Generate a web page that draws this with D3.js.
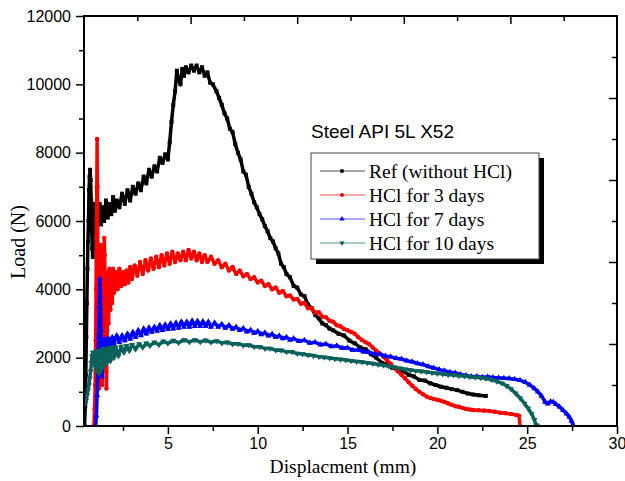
<!DOCTYPE html>
<html>
<head>
<meta charset="utf-8">
<script src="https://cdn.jsdelivr.net/npm/d3@7"></script>
<style>
  body { margin: 0; background: #fff; }
  svg { display: block; }
  .tick text { font-family: "Liberation Sans", Arial, sans-serif; font-size: 16px; fill: #000; }
  .tick line { stroke: #000; stroke-width: 1.5; }
</style>
</head>
<body>
<svg id="chart" width="625" height="481"></svg>
<script>
// ---- data (displacement mm, load N) ----
var seriesNames = ["Ref (without HCl)", "HCl for 3 days", "HCl for 7 days", "HCl for 10 days"];

var refData = [[0.36,0],[0.40,600],[0.43,1500],[0.46,2600],[0.49,3600],[0.52,4600],[0.55,5400],[0.58,6000],[0.61,6900],[0.64,7300],[0.67,7500],[0.70,7200],[0.73,6600],[0.76,5700],[0.79,5200],[0.82,4950],[0.86,5300],[0.90,6000],[0.95,6500],[1.0,6200],[1.05,5700],[1.12,6100],[1.2,6500],[1.28,5900],[1.36,6400],[1.45,6000],[1.55,6600],[1.65,6100],[1.75,6500],[1.85,6200],[1.95,6700],[2.05,6300],[2.15,6600],[2.3,6400],[2.45,6800],[2.6,6500],[2.75,6900],[2.9,6600],[3.05,7000],[3.2,6800],[3.35,7100],[3.5,6900],[3.65,7300],[3.8,7100],[3.95,7500],[4.1,7300],[4.25,7600],[4.4,7450],[4.55,7850],[4.7,7700],[4.85,7950],[5.0,7800],[5.1,8300],[5.2,8900],[5.3,9400],[5.4,9800],[5.5,10400],[5.6,10100],[5.7,10000],[5.8,10450],[5.9,10250],[6.0,10500],[6.15,10350],[6.3,10550],[6.45,10400],[6.6,10550],[6.75,10350],[6.9,10500],[7.05,10250],[7.2,10350],[7.35,10050],[7.5,10000],[7.7,9800],[7.85,9600],[8.0,9400],[8.15,9150],[8.3,9000],[8.45,8700],[8.6,8600],[8.75,8250],[8.9,8000],[9.05,7800],[9.2,7450],[9.35,7350],[9.5,7000],[9.65,6800],[9.8,6550],[9.95,6400],[10.1,6200],[10.25,6050],[10.4,5850],[10.55,5700],[10.7,5500],[10.85,5400],[11.0,5200],[11.15,5050],[11.3,4750],[11.45,4650],[11.6,4450],[11.8,4350],[12.0,4100],[12.2,4050],[12.4,3850],[12.6,3800],[12.8,3550],[13.0,3450],[13.2,3250],[13.4,3150],[13.6,3000],[13.8,2950],[14.0,2850],[14.2,2800],[14.5,2700],[14.8,2650],[15.1,2500],[15.4,2420],[15.7,2300],[16.0,2250],[16.3,2100],[16.6,2000],[16.9,1850],[17.2,1800],[17.5,1700],[17.8,1650],[18.1,1600],[18.4,1500],[18.7,1450],[19.0,1350],[19.3,1330],[19.6,1250],[19.9,1200],[20.2,1150],[20.5,1120],[20.8,1080],[21.1,1050],[21.4,1000],[21.7,950],[22.0,920],[22.3,900],[22.7,880]];

var hcl3Data = [[0.88,0],[0.92,500],[0.95,1200],[0.98,2500],[1.0,4000],[1.02,5500],[1.04,7000],[1.06,8400],[1.08,7000],[1.1,5200],[1.12,3600],[1.14,2200],[1.16,1100],[1.18,1900],[1.2,2600],[1.23,4500],[1.26,5300],[1.28,4600],[1.3,3300],[1.32,2400],[1.34,1200],[1.36,1700],[1.38,3100],[1.42,4800],[1.46,5500],[1.48,5000],[1.5,4200],[1.52,3300],[1.54,2500],[1.56,1600],[1.58,1100],[1.6,1900],[1.62,2800],[1.66,4500],[1.68,3900],[1.7,3000],[1.73,4200],[1.75,4600],[1.78,3700],[1.8,3400],[1.85,4300],[1.9,3600],[1.95,4600],[2.0,3900],[2.1,4500],[2.2,4000],[2.3,4600],[2.4,4100],[2.5,4500],[2.6,4150],[2.7,4550],[2.8,4200],[2.9,4650],[3.0,4300],[3.15,4700],[3.3,4400],[3.45,4800],[3.6,4450],[3.75,4850],[3.9,4550],[4.05,4900],[4.2,4600],[4.35,4950],[4.5,4650],[4.65,5000],[4.8,4700],[4.95,5050],[5.1,4750],[5.25,5100],[5.4,4800],[5.55,5050],[5.7,4850],[5.85,5100],[6.0,4850],[6.15,5150],[6.3,4900],[6.45,5100],[6.6,4850],[6.75,5050],[6.9,4800],[7.05,5000],[7.2,4800],[7.4,4950],[7.6,4750],[7.8,4850],[8.0,4650],[8.2,4750],[8.4,4550],[8.6,4650],[8.8,4450],[9.0,4550],[9.2,4380],[9.4,4450],[9.6,4300],[9.8,4350],[10.0,4200],[10.2,4250],[10.4,4100],[10.6,4150],[10.8,4000],[11.0,4050],[11.2,3900],[11.4,3950],[11.6,3800],[11.8,3820],[12.0,3700],[12.2,3720],[12.4,3580],[12.6,3600],[12.8,3450],[13.0,3450],[13.2,3320],[13.4,3330],[13.6,3200],[13.8,3180],[14.0,3080],[14.2,3050],[14.4,2950],[14.6,2920],[14.8,2840],[15.0,2800],[15.2,2750],[15.4,2700],[15.6,2600],[15.8,2520],[16.0,2450],[16.2,2400],[16.4,2300],[16.6,2200],[16.8,2120],[17.0,2030],[17.2,1920],[17.4,1820],[17.6,1700],[17.8,1600],[18.0,1500],[18.2,1400],[18.4,1280],[18.6,1180],[18.8,1080],[19.0,1000],[19.2,930],[19.4,860],[19.6,820],[19.8,790],[20.0,770],[20.2,740],[20.4,700],[20.6,660],[20.8,620],[21.0,580],[21.2,560],[21.4,530],[21.6,500],[21.8,480],[22.0,470],[22.3,460],[22.6,450],[22.9,440],[23.2,420],[23.5,390],[23.8,370],[24.1,350],[24.4,320],[24.55,300],[24.6,0]];

var hcl7Data = [[0.98,0],[1.02,300],[1.06,900],[1.1,1700],[1.14,2600],[1.18,3500],[1.21,4300],[1.24,3800],[1.27,2800],[1.3,1900],[1.33,1450],[1.36,1900],[1.4,2500],[1.45,2200],[1.5,2550],[1.6,2300],[1.7,2550],[1.8,2350],[1.9,2600],[2.0,2400],[2.15,2650],[2.3,2450],[2.45,2650],[2.6,2500],[2.75,2700],[2.9,2550],[3.05,2750],[3.2,2600],[3.35,2800],[3.5,2650],[3.65,2850],[3.8,2700],[3.95,2880],[4.1,2750],[4.25,2900],[4.4,2780],[4.55,2950],[4.7,2800],[4.85,2970],[5.0,2830],[5.15,3000],[5.3,2850],[5.45,3020],[5.6,2870],[5.75,3050],[5.9,2900],[6.05,3050],[6.2,2900],[6.35,3080],[6.5,2920],[6.65,3070],[6.8,2920],[6.95,3060],[7.1,2920],[7.25,3050],[7.4,2900],[7.6,3020],[7.8,2900],[8.0,2980],[8.2,2870],[8.4,2950],[8.6,2840],[8.8,2900],[9.0,2800],[9.2,2860],[9.4,2760],[9.6,2810],[9.8,2720],[10.0,2770],[10.2,2680],[10.4,2730],[10.6,2640],[10.8,2690],[11.0,2600],[11.2,2640],[11.4,2560],[11.6,2600],[11.8,2520],[12.0,2560],[12.3,2480],[12.6,2510],[12.9,2430],[13.2,2450],[13.5,2380],[13.8,2400],[14.1,2330],[14.4,2350],[14.7,2280],[15.0,2290],[15.3,2220],[15.6,2230],[15.9,2170],[16.2,2160],[16.5,2110],[16.8,2100],[17.1,2050],[17.4,2030],[17.7,1980],[18.0,1960],[18.3,1910],[18.6,1880],[18.9,1830],[19.2,1800],[19.5,1740],[19.8,1700],[20.1,1650],[20.4,1620],[20.7,1570],[21.0,1550],[21.3,1510],[21.6,1480],[21.9,1450],[22.2,1450],[22.5,1430],[22.8,1440],[23.1,1420],[23.4,1410],[23.7,1400],[24.0,1390],[24.3,1370],[24.6,1340],[24.9,1280],[25.15,1200],[25.4,1100],[25.6,1000],[25.8,880],[26.0,700],[26.15,650],[26.3,720],[26.45,700],[26.6,640],[26.8,560],[27.0,460],[27.2,360],[27.35,260],[27.47,150],[27.55,30],[27.6,0]];

var hcl10Data = [[0.4,650],[0.45,750],[0.5,900],[0.55,1050],[0.6,1200],[0.65,1400],[0.7,1600],[0.74,1850],[0.78,2050],[0.82,2150],[0.86,1900],[0.9,2150],[0.95,1750],[1.0,2180],[1.05,1600],[1.1,2200],[1.15,1550],[1.2,2200],[1.25,1600],[1.3,2220],[1.35,1700],[1.4,2250],[1.45,1750],[1.5,2250],[1.6,1850],[1.7,2280],[1.8,1900],[1.9,2300],[2.0,2000],[2.1,2300],[2.25,2050],[2.4,2330],[2.55,2150],[2.7,2350],[2.85,2200],[3.0,2380],[3.2,2250],[3.4,2400],[3.6,2300],[3.8,2420],[4.0,2350],[4.25,2450],[4.5,2380],[4.75,2480],[5.0,2420],[5.3,2500],[5.6,2440],[5.9,2520],[6.2,2460],[6.5,2520],[6.8,2460],[7.1,2510],[7.4,2450],[7.7,2490],[8.0,2430],[8.3,2450],[8.6,2400],[8.9,2410],[9.2,2360],[9.5,2370],[9.8,2320],[10.1,2320],[10.4,2270],[10.7,2270],[11.0,2220],[11.3,2220],[11.6,2170],[11.9,2170],[12.2,2120],[12.5,2110],[12.8,2080],[13.1,2060],[13.4,2030],[13.7,2010],[14.0,1990],[14.3,1970],[14.6,1950],[14.9,1930],[15.2,1910],[15.5,1890],[15.8,1870],[16.1,1850],[16.4,1830],[16.7,1800],[17.0,1780],[17.3,1750],[17.6,1720],[17.9,1690],[18.2,1660],[18.5,1640],[18.8,1620],[19.1,1600],[19.4,1580],[19.7,1560],[20.0,1540],[20.3,1520],[20.6,1500],[20.9,1490],[21.2,1470],[21.5,1460],[21.8,1440],[22.1,1430],[22.4,1410],[22.7,1390],[23.0,1360],[23.3,1310],[23.6,1250],[23.85,1180],[24.1,1080],[24.35,960],[24.6,820],[24.85,660],[25.05,520],[25.25,350],[25.4,180],[25.5,30],[25.55,0]];

var xMajorTicks = [5, 10, 15, 20, 25, 30];
var xMinorTicks = [2.5, 7.5, 12.5, 17.5, 22.5, 27.5];
var yMajorTicks = [0, 2000, 4000, 6000, 8000, 10000, 12000];
var yMinorTicks = [1000, 3000, 5000, 7000, 9000, 11000];

// styles
var colors = ["#000000", "#ff0000", "#0000ff", "#0b615b"];
var symbols = [d3.symbolSquare, d3.symbolCircle, d3.symbolTriangle, d3.symbolTriangle];

var allData = [refData, hcl3Data, hcl7Data, hcl10Data];

var svg = d3.select("#chart");

var plotLeft = 84, plotRight = 617, plotTop = 16, plotBottom = 426;

var xScale = d3.scaleLinear().domain([0.33, 30]).range([plotLeft, plotRight]);
var yScale = d3.scaleLinear().domain([0, 12000]).range([plotBottom, plotTop]);
// top / right mirror axes carry their own evenly spaced ticks
var topScale = d3.scaleLinear().domain([0, 10]).range([plotLeft, plotRight]);
var rightScale = d3.scaleLinear().domain([0, 10]).range([plotBottom, plotTop]);

//Curves
svg.append("clipPath").attr("id", "plotclip")
	.append("rect").attr("x", plotLeft).attr("y", plotTop - 2)
	.attr("width", plotRight - plotLeft).attr("height", plotBottom - plotTop + 2);

var line = d3.line()
	.x(function(d) { return xScale(d[0]); })
	.y(function(d) { return yScale(d[1]); });

var plot = svg.append("g").attr("clip-path", "url(#plotclip)");

allData.forEach(function(data, i) {
	plot.append("path")
		.datum(data)
		.attr("fill", "none")
		.attr("stroke", colors[i])
		.attr("stroke-width", 3.5)
		.attr("stroke-linejoin", "round")
		.attr("d", line);

	plot.selectAll(".pt" + i)
		.data(data)
		.enter().append("path")
		.attr("class", "pt" + i)
		.attr("fill", colors[i])
		.attr("d", d3.symbol().type(symbols[i]).size(16))
		.attr("transform", function(d) {
			return "translate(" + xScale(d[0]) + "," + yScale(d[1]) + ")" + (i === 3 ? " rotate(180)" : "");
		});
});

//Axes
var gx = svg.append("g").attr("transform", "translate(0," + plotBottom + ")");
gx.call(d3.axisBottom(xScale).tickValues(xMajorTicks).tickSize(8).tickPadding(4).tickFormat(d3.format("d")));
gx.append("g").call(d3.axisBottom(xScale).tickValues(xMinorTicks).tickSize(5).tickFormat(""));

var gy = svg.append("g").attr("transform", "translate(" + plotLeft + ",0)");
gy.call(d3.axisLeft(yScale).tickValues(yMajorTicks).tickSize(8).tickPadding(5).tickFormat(d3.format("d")));
gy.append("g").call(d3.axisLeft(yScale).tickValues(yMinorTicks).tickSize(5).tickFormat(""));

var gt = svg.append("g").attr("transform", "translate(0," + plotTop + ")");
gt.call(d3.axisBottom(topScale).tickValues([2, 4, 6, 8]).tickSize(8).tickFormat(""));
gt.append("g").call(d3.axisBottom(topScale).tickValues([1, 3, 5, 7, 9]).tickSize(5).tickFormat(""));

var gr = svg.append("g").attr("transform", "translate(" + plotRight + ",0)");
gr.call(d3.axisLeft(rightScale).tickValues([2, 4, 6, 8]).tickSize(8).tickFormat(""));
gr.append("g").call(d3.axisLeft(rightScale).tickValues([1, 3, 5, 7, 9]).tickSize(5).tickFormat(""));

svg.selectAll(".domain").remove();

svg.append("rect")
	.attr("x", plotLeft).attr("y", plotTop)
	.attr("width", plotRight - plotLeft).attr("height", plotBottom - plotTop)
	.attr("fill", "none").attr("stroke", "#000").attr("stroke-width", 2);

//Axis titles
svg.append("text")
	.attr("x", 343).attr("y", 473)
	.attr("text-anchor", "middle")
	.style("font-family", "'Liberation Serif', 'Times New Roman', serif")
	.style("font-size", "19.5px")
	.text("Displacment (mm)");

svg.append("text")
	.attr("transform", "translate(25,242) rotate(-90)")
	.attr("text-anchor", "middle")
	.style("font-family", "'Liberation Serif', 'Times New Roman', serif")
	.style("font-size", "20px")
	.text("Load (N)");

//Title and legend
svg.append("text")
	.attr("x", 311).attr("y", 138)
	.style("font-family", "'Liberation Sans', Arial, sans-serif")
	.style("font-size", "19px")
	.text("Steel API 5L X52");

var lg = svg.append("g");
lg.append("rect").attr("x", 316).attr("y", 158).attr("width", 228).attr("height", 106).attr("fill", "#000");
lg.append("rect").attr("x", 311).attr("y", 153).attr("width", 228).attr("height", 106)
	.attr("fill", "#fff").attr("stroke", "#444").attr("stroke-width", 1);

var rows = lg.selectAll(".row")
	.data(seriesNames)
	.enter().append("g")
	.attr("transform", function(d, i) { return "translate(0," + (171 + i * 24) + ")"; });

rows.append("line")
	.attr("x1", 320).attr("x2", 365)
	.attr("stroke", function(d, i) { return colors[i]; })
	.attr("stroke-opacity", 0.7)
	.attr("stroke-width", 1);

rows.append("path")
	.attr("fill", function(d, i) { return colors[i]; })
	.attr("d", function(d, i) { return d3.symbol().type(symbols[i]).size(12)(); })
	.attr("transform", function(d, i) { return "translate(342,0)" + (i === 3 ? " rotate(180)" : ""); });

rows.append("text")
	.attr("x", 369).attr("y", 6.5)
	.style("font-family", "'Liberation Serif', 'Times New Roman', serif")
	.style("font-size", "19.5px")
	.text(function(d) { return d; });
</script>
</body>
</html>
